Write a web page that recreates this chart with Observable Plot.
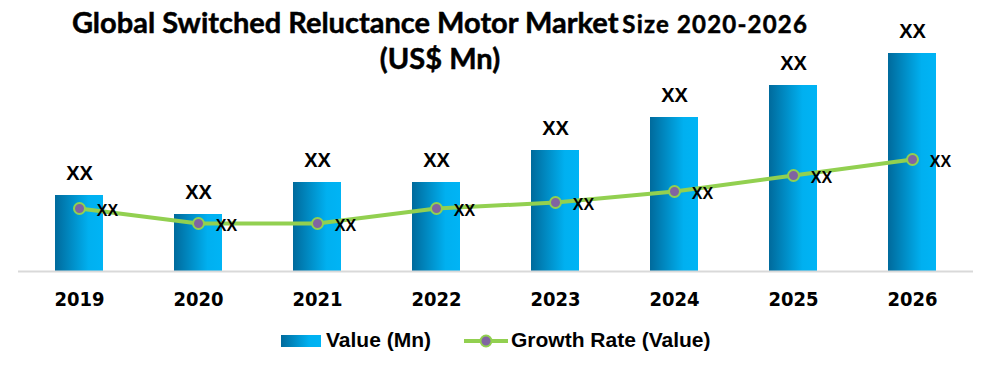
<!DOCTYPE html>
<html>
<head>
<meta charset="utf-8">
<script src="https://cdn.jsdelivr.net/npm/d3@7"></script>
<script src="https://cdn.jsdelivr.net/npm/@observablehq/plot@0.6"></script>
<style>
  body { margin: 0; background: #fff; }
  #wrap { position: relative; width: 985px; height: 373px; overflow: hidden; }
  #chart { position: absolute; left: 0; top: 0; }
  #title { position: absolute; left: 0; top: 6px; width: 880px; text-align: center;
    font-family: Lato, "Open Sans", sans-serif; font-weight: 700; color: #000; line-height: 31px;
    -webkit-text-stroke: 0.5px #000; }
  #title .big { font-size: 29px; }
  #title .small { font-size: 24px; letter-spacing: 1.2px; }
  #legend { position: absolute; left: 0; top: 0; width: 985px; height: 373px; pointer-events: none;
    font-family: "Liberation Sans", Arial, sans-serif; font-weight: 700; font-size: 21px; color: #000; }
  .lg { position: absolute; white-space: nowrap; }
</style>
</head>
<body>
<div id="wrap">
  <div id="chart"></div>
  <div id="title"><span class="big">Global Switched Reluctance Motor Market</span> <span class="small">Size 2020-2026</span><br><span class="big">(US$ Mn)</span></div>
  <div id="legend">
    <div class="lg" style="left:281px;top:335px;width:40px;height:12px;background:linear-gradient(to right,#006a9c 0%,#00b0f0 70%,#00b4f5 100%);"></div>
    <div class="lg" style="left:326px;top:328px;">Value (Mn)</div>
    <svg class="lg" style="left:462px;top:332px;" width="48" height="18">
      <line x1="2" y1="9" x2="46" y2="9" stroke="#92D050" stroke-width="4"/>
      <circle cx="24" cy="9" r="5.5" fill="#8064A2" stroke="#92D050" stroke-width="2"/>
    </svg>
    <div class="lg" style="left:511px;top:328px;">Growth Rate (Value)</div>
  </div>
</div>
<script>
const years = ["2019", "2020", "2021", "2022", "2023", "2024", "2025", "2026"];
const values = [7.6, 5.7, 8.9, 8.9, 12.1, 15.4, 18.6, 21.8];
const growth = [6.3, 4.8, 4.8, 6.3, 6.9, 8.0, 9.6, 11.2];
const valueLabels = ["XX", "XX", "XX", "XX", "XX", "XX", "XX", "XX"];
const growthLabels = ["XX", "XX", "XX", "XX", "XX", "XX", "XX", "XX"];

const rows = years.map((y, i) => ({year: y, value: values[i], growth: growth[i], vl: valueLabels[i], gl: growthLabels[i]}));

const plot = Plot.plot({
  width: 985,
  height: 315,
  marginLeft: 18,
  marginRight: 12,
  marginTop: 0,
  marginBottom: 44,
  style: {background: "transparent", overflow: "visible"},
  x: {type: "band", domain: years, paddingInner: 0.6, paddingOuter: 0.3, label: null},
  y: {domain: [0, 27.1], axis: null},
  marks: [
    Plot.barY(rows, {x: "year", y: "value", fill: "url(#barGrad)"}),
    Plot.ruleY([0], {stroke: "#d9d9d9", strokeWidth: 2}),
    Plot.axisX({tickSize: 0, tickPadding: 20, fontSize: 20, fontWeight: "bold",
      fontFamily: "'Liberation Sans Narrow', 'DejaVu Sans Condensed', sans-serif", fill: "#000", label: null}),
    Plot.text(rows, {x: "year", y: "value", text: "vl", dy: -22, fontSize: 20, fontWeight: "bold",
      fontFamily: "'Liberation Sans', Arial, sans-serif", fill: "#000"}),
    Plot.line(rows, {x: "year", y: "growth", stroke: "#92D050", strokeWidth: 4}),
    Plot.dot(rows, {x: "year", y: "growth", r: 5.5, fill: "#8064A2", stroke: "#92D050", strokeWidth: 2}),
    Plot.text(rows, {x: "year", y: "growth", text: "gl", dx: 28, dy: 2, fontSize: 16, fontWeight: "bold",
      fontFamily: "'Liberation Sans', Arial, sans-serif", fill: "#000"})
  ]
});

const svg = d3.select(plot);
const defs = svg.insert("defs", ":first-child");
const g = defs.append("linearGradient").attr("id", "barGrad").attr("x1", "0").attr("x2", "1").attr("y1", "0").attr("y2", "0");
g.append("stop").attr("offset", "0%").attr("stop-color", "#006a9c");
g.append("stop").attr("offset", "70%").attr("stop-color", "#00b0f0");
g.append("stop").attr("offset", "100%").attr("stop-color", "#00b4f5");

document.getElementById("chart").appendChild(plot);
</script>
</body>
</html>
